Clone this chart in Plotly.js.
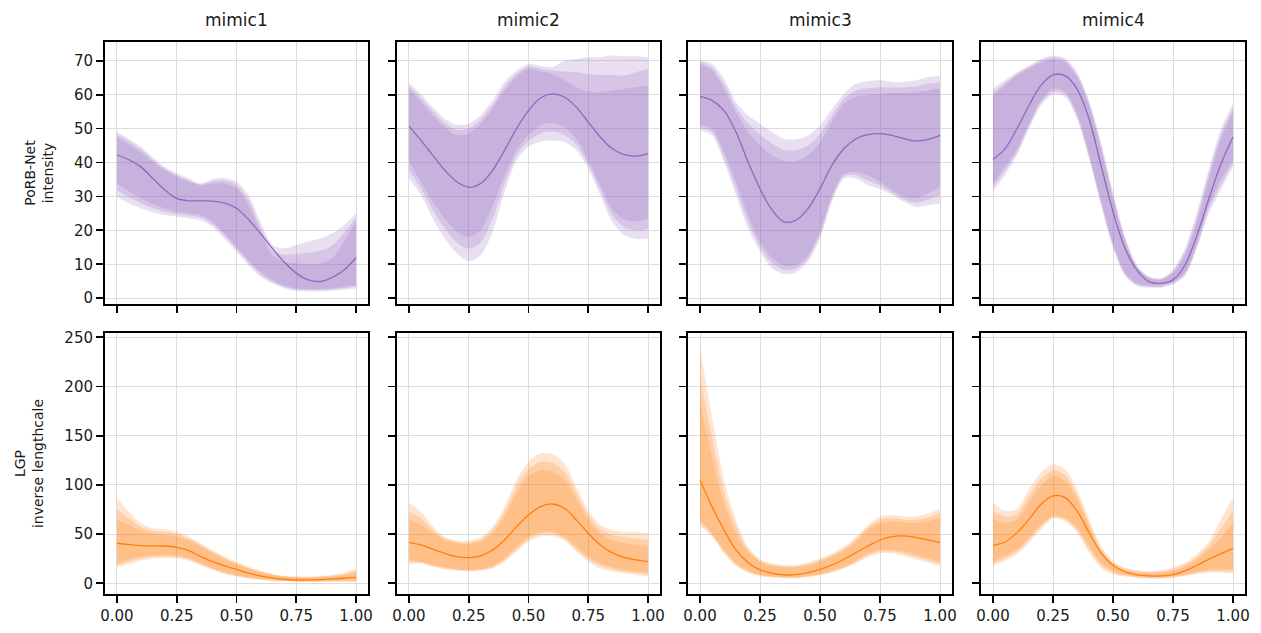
<!DOCTYPE html>
<html>
<head>
<meta charset="utf-8">
<script src="https://cdn.plot.ly/plotly-3.0.1.min.js"></script>
<style>html,body{margin:0;padding:0;background:#fff;}#chart{width:1261px;height:633px;}</style>
</head>
<body>
<div id="chart"></div>
<script>
// ---------------- DATA ----------------
const xGrid = [0, 0.05, 0.1, 0.15, 0.2, 0.25, 0.3, 0.35, 0.4, 0.45, 0.5, 0.55, 0.6, 0.65, 0.7, 0.75, 0.8, 0.85, 0.9, 0.95, 1];
const panelTitles = ['mimic1', 'mimic2', 'mimic3', 'mimic4'];
const rowTitles = ['PoRB-Net<br>intensity', 'LGP<br>inverse lengthcale'];
const xTickVals = [0, 0.25, 0.5, 0.75, 1];
const xTickText = ['0.00', '0.25', '0.50', '0.75', '1.00'];
const yTopTicks = [0, 10, 20, 30, 40, 50, 60, 70];
const yBottomTicks = [0, 50, 100, 150, 200, 250];

// PoRB-Net intensity (top row): mean and three nested bands (1 = inner, 3 = outer)
const int1_mean = [42.2, 40.8, 38.7, 35.3, 31.9, 29.4, 28.7, 28.7, 28.6, 28.0, 26.5, 23.2, 19.1, 14.7, 10.6, 7.4, 5.4, 4.9, 6.1, 8.3, 12.0];
const int1_hi3 = [49, 47, 44.6, 41.5, 38.7, 36.8, 35.3, 33.8, 35.1, 35.5, 34.3, 30.4, 22.5, 15.7, 14.7, 15.7, 16.7, 17.6, 19.1, 21.6, 25];
const int1_hi2 = [48.3, 46.2, 43.9, 40.9, 38.2, 36.3, 34.8, 33.6, 34.5, 34.7, 33.4, 29, 21, 14.2, 12.8, 13, 13.4, 14, 15.5, 19.2, 23.8];
const int1_hi1 = [47.5, 45.3, 43.1, 40.2, 37.7, 35.8, 34.3, 33.3, 33.8, 33.8, 32.4, 27.5, 19.6, 12.7, 10.8, 10.3, 10, 10.3, 11.8, 16.7, 22.5];
const int1_lo1 = [33.8, 31.5, 29.4, 27.8, 26.5, 25.5, 25, 24.5, 22.5, 19.1, 15.2, 11.3, 7.8, 5.4, 3.7, 2.9, 2.7, 2.7, 2.9, 3.4, 3.9];
const int1_lo2 = [31.8, 29.8, 28, 26.6, 25.5, 24.8, 24.3, 23.8, 21.8, 18.4, 14.5, 10.6, 7.1, 4.9, 3.3, 2.6, 2.4, 2.4, 2.6, 3, 3.4];
const int1_lo3 = [29.9, 28, 26.5, 25.3, 24.5, 24, 23.5, 23, 21, 17.6, 13.7, 9.8, 6.4, 4.4, 2.9, 2.2, 2, 2, 2.2, 2.5, 2.9];

const int2_mean = [50.7, 46.5, 42.1, 37.7, 34.3, 32.7, 33.8, 37.7, 43.6, 50.0, 55.3, 59.0, 60.2, 59.3, 56.3, 51.9, 47.5, 44.1, 42.3, 41.9, 42.6];
const int2_hi3 = [63.4, 60.2, 56.3, 52.9, 51.1, 51.4, 53.9, 58.3, 63.7, 67.1, 69.0, 68.5, 68.1, 70.0, 70.5, 71.0, 71.0, 71.5, 71.3, 71.3, 71.0];
const int2_hi2 = [62.5, 59.0, 55.1, 51.6, 49.5, 50.0, 52.6, 57.0, 62.4, 66.1, 68.3, 67.6, 67.1, 66.8, 66.6, 66.1, 65.8, 65.8, 65.6, 66.6, 67.6];
const int2_hi1 = [61.7, 57.8, 53.9, 50.4, 48.0, 48.5, 51.4, 55.8, 61.2, 65.1, 67.6, 66.8, 66.1, 64.2, 62.2, 60.9, 60.7, 61.2, 61.7, 62.2, 62.7];
const int2_lo1 = [40.2, 34.3, 28.4, 23.5, 19.6, 18.1, 20.1, 27.4, 36.2, 43.6, 48.0, 50.9, 51.7, 50.4, 47.0, 40.6, 33.3, 26.4, 23.3, 22.7, 23.5];
const int2_lo2 = [37.8, 32.4, 26.0, 20.6, 16.4, 14.6, 16.4, 23.5, 33.8, 42.1, 46.3, 48.5, 49.1, 48.2, 45.3, 39.4, 31.9, 24.5, 21.0, 20.0, 20.5];
const int2_lo3 = [35.3, 30.4, 23.5, 17.6, 13.2, 11.0, 12.7, 19.6, 31.3, 40.6, 44.6, 46.2, 46.5, 46.0, 43.6, 38.2, 30.4, 22.5, 18.6, 17.4, 17.6];

const int3_mean = [59.5, 58.3, 55.3, 49.0, 40.2, 32.3, 26.0, 22.5, 23.0, 26.4, 32.3, 39.2, 44.1, 47.0, 48.2, 48.5, 48.0, 47.0, 46.3, 46.8, 48.0];
const int3_hi3 = [70.3, 69.0, 64.6, 57.8, 53.9, 51.4, 49.0, 47.0, 46.8, 48.0, 50.9, 55.8, 60.2, 63.2, 63.9, 64.2, 63.7, 63.7, 64.2, 65.2, 65.5];
const int3_hi2 = [69.6, 68.0, 63.2, 56.3, 51.5, 48.2, 45.5, 43.7, 43.6, 45.0, 48.4, 53.8, 58.7, 61.2, 61.9, 62.2, 62.1, 62.1, 62.4, 63.2, 63.6];
const int3_hi1 = [69.0, 67.1, 61.7, 54.8, 49.0, 45.0, 42.1, 40.4, 40.4, 42.1, 46.0, 51.9, 57.3, 59.3, 59.9, 60.2, 60.5, 60.5, 60.7, 61.2, 61.7];
const int3_lo1 = [51.1, 50.0, 43.1, 34.3, 24.5, 16.7, 11.8, 9.6, 9.8, 12.7, 19.6, 30.4, 36.7, 37.2, 36.2, 34.3, 31.8, 29.9, 29.4, 30.9, 32.8];
const int3_lo2 = [50.3, 49.0, 41.6, 32.3, 22.5, 15.2, 10.3, 8.3, 8.7, 11.7, 18.6, 29.4, 36.0, 36.2, 34.7, 33.2, 31.1, 29.1, 28.1, 29.1, 30.3];
const int3_lo3 = [49.5, 48.0, 40.2, 30.4, 20.6, 13.7, 8.8, 7.1, 7.6, 10.8, 17.6, 28.4, 35.3, 35.3, 33.3, 32.1, 30.4, 28.4, 26.9, 27.4, 27.9];

const int4_mean = [40.9, 44.0, 50.0, 56.8, 62.7, 65.8, 65.6, 61.7, 52.9, 39.2, 25.5, 14.7, 8.3, 4.9, 4.4, 5.4, 9.8, 18.6, 29.4, 39.6, 47.5];
const int4_hi3 = [61.7, 64.2, 66.6, 68.6, 70.5, 71.5, 70.7, 66.6, 58.3, 46.0, 31.3, 18.1, 9.8, 6.4, 5.9, 8.4, 14.7, 25.5, 38.2, 50.0, 57.3];
const int4_hi2 = [60.7, 63.4, 66.1, 68.1, 70.0, 70.9, 70.1, 65.9, 57.6, 45.0, 30.3, 17.6, 9.3, 6.2, 5.7, 7.9, 13.7, 24.0, 36.8, 48.5, 56.0];
const int4_hi1 = [59.7, 62.6, 65.6, 67.6, 69.5, 70.3, 69.5, 65.1, 56.8, 44.0, 29.3, 17.1, 8.8, 5.9, 5.4, 7.4, 12.7, 22.5, 35.3, 47.0, 54.8];
const int4_lo1 = [33.8, 38.8, 44.0, 51.4, 58.3, 61.7, 60.9, 54.4, 42.6, 28.9, 16.2, 7.6, 4.4, 3.8, 3.8, 4.8, 7.6, 16.2, 27.4, 35.0, 40.8];
const int4_lo2 = [32.6, 37.5, 43.0, 50.7, 57.5, 60.8, 60.1, 53.6, 41.8, 28.1, 15.4, 7.1, 4.0, 3.4, 3.4, 4.4, 7.1, 15.4, 26.3, 33.5, 39.8];
const int4_lo3 = [31.4, 36.3, 42.1, 50.0, 56.8, 60.0, 59.3, 52.9, 41.1, 27.4, 14.7, 6.6, 3.6, 3.1, 3.1, 4.1, 6.6, 14.7, 25.2, 32.0, 38.8];

// LGP inverse lengthscale (bottom row)
const len1_mean = [40.7, 39.3, 38.3, 38.0, 37.9, 36.6, 33.2, 27.1, 22.0, 17.6, 14.2, 10.2, 7.5, 5.4, 4.1, 3.4, 3.4, 3.7, 4.4, 5.1, 6.1];
const len1_hi3 = [86.4, 72.8, 61.0, 55.9, 54.9, 52.5, 47.4, 40.7, 33.9, 27.1, 22.0, 16.9, 12.9, 9.5, 7.5, 6.8, 6.8, 7.5, 8.5, 10.8, 15.2];
const len1_hi2 = [75.0, 66.0, 57.2, 53.3, 52.0, 50.0, 45.4, 39.0, 32.2, 25.8, 20.6, 15.9, 12.0, 9.0, 7.1, 6.4, 6.3, 6.8, 7.6, 9.4, 13.0];
const len1_hi1 = [64.4, 59.3, 53.5, 50.8, 49.1, 47.4, 43.4, 37.3, 30.5, 24.4, 19.3, 14.9, 11.2, 8.5, 6.8, 6.1, 5.8, 6.1, 6.8, 8.1, 10.8];
const len1_lo1 = [20.3, 24.4, 27.1, 28.5, 28.8, 28.1, 25.4, 20.3, 15.2, 11.2, 8.5, 6.1, 4.4, 3.4, 2.7, 2.4, 2.4, 2.4, 2.4, 2.7, 2.7];
const len1_lo2 = [18.3, 22.0, 25.0, 26.8, 27.2, 26.7, 24.2, 19.3, 14.4, 10.3, 7.6, 5.4, 3.9, 2.9, 2.2, 1.9, 1.9, 1.9, 1.9, 2.0, 2.0];
const len1_lo3 = [16.3, 19.6, 23.0, 25.1, 25.7, 25.4, 23.0, 18.3, 13.6, 9.5, 6.8, 4.7, 3.4, 2.4, 1.7, 1.4, 1.4, 1.4, 1.4, 1.4, 1.4];

const len2_mean = [41.3, 39.0, 34.6, 30.5, 27.1, 26.1, 27.8, 33.9, 44.0, 57.6, 69.4, 77.9, 80.6, 76.2, 64.4, 50.8, 39.0, 31.2, 26.4, 23.7, 22.0];
const len2_hi3 = [82.0, 72.8, 57.6, 47.4, 43.4, 43.4, 46.7, 57.6, 77.9, 105.0, 123.6, 132.0, 131.4, 122.0, 98.2, 74.5, 59.3, 54.2, 52.5, 52.2, 50.8];
const len2_hi2 = [73.0, 66.0, 54.2, 45.7, 42.0, 41.7, 44.5, 54.2, 72.8, 98.2, 116.0, 123.6, 122.4, 113.5, 92.3, 69.4, 55.0, 49.1, 46.9, 45.6, 44.0];
const len2_hi1 = [64.4, 59.3, 50.8, 44.0, 40.7, 40.0, 42.3, 50.8, 67.8, 91.5, 108.4, 115.2, 113.5, 105.0, 86.4, 64.4, 50.8, 44.0, 41.3, 39.0, 37.3];
const len2_lo1 = [23.7, 22.0, 18.6, 16.3, 14.2, 13.6, 14.2, 17.6, 25.4, 37.3, 47.4, 52.5, 52.5, 47.4, 37.3, 27.1, 20.3, 16.3, 13.6, 11.9, 10.8];
const len2_lo2 = [21.0, 21.2, 17.7, 15.2, 13.5, 12.7, 13.5, 16.4, 23.7, 34.7, 44.8, 50.0, 50.3, 45.4, 34.7, 24.5, 17.7, 14.1, 11.9, 10.2, 9.1];
const len2_lo3 = [19.5, 20.3, 16.9, 14.2, 12.9, 11.9, 12.9, 15.2, 22.0, 32.2, 42.3, 47.4, 48.1, 43.4, 32.2, 22.0, 15.2, 11.9, 10.2, 8.5, 7.5];

const len3_mean = [105.0, 77.9, 54.2, 33.9, 21.0, 13.6, 10.2, 8.5, 8.8, 10.8, 14.2, 18.6, 24.4, 31.2, 37.9, 44.0, 47.4, 48.1, 46.7, 44.0, 41.3];
const len3_hi3 = [238.8, 169.4, 105.0, 64.4, 37.3, 24.4, 20.3, 18.6, 18.6, 21.0, 25.4, 30.5, 37.3, 47.4, 59.3, 67.8, 69.4, 67.8, 67.8, 71.1, 75.2];
const len3_hi2 = [210.0, 149.0, 93.0, 57.6, 34.7, 23.2, 19.0, 17.5, 17.5, 19.5, 23.7, 28.8, 35.2, 44.8, 56.7, 64.4, 66.0, 64.7, 64.4, 66.9, 70.6];
const len3_hi1 = [183.0, 128.7, 81.3, 50.8, 32.2, 22.0, 17.6, 16.3, 16.3, 18.0, 22.0, 27.1, 33.2, 42.3, 54.2, 61.0, 62.7, 61.7, 61.0, 62.7, 66.0];
const len3_lo1 = [64.4, 50.8, 33.9, 20.3, 12.9, 8.8, 6.8, 6.1, 6.1, 7.5, 9.5, 12.9, 16.9, 23.0, 30.5, 33.9, 33.9, 32.2, 28.8, 25.4, 22.0];
const len3_lo2 = [61.3, 49.1, 32.2, 19.0, 11.8, 8.1, 6.3, 5.6, 5.6, 6.8, 8.8, 11.8, 15.9, 21.6, 28.4, 32.2, 32.2, 30.0, 26.6, 23.2, 19.8];
const len3_lo3 = [58.3, 47.4, 30.5, 17.6, 10.8, 7.5, 5.8, 5.1, 5.1, 6.1, 8.1, 10.8, 14.9, 20.3, 26.4, 30.5, 30.5, 27.8, 24.4, 21.0, 17.6];

const len4_mean = [38.6, 42.0, 51.5, 65.0, 80.3, 88.8, 87.1, 73.5, 51.5, 31.2, 18.3, 11.5, 8.5, 7.5, 7.5, 8.8, 12.5, 18.3, 24.4, 30.1, 35.2];
const len4_hi3 = [82.0, 73.5, 75.2, 95.5, 112.5, 121.0, 115.9, 95.5, 65.0, 37.9, 22.7, 15.9, 13.5, 12.5, 13.5, 15.9, 21.0, 29.5, 43.0, 65.0, 87.1];
const len4_hi2 = [73.5, 67.5, 70.0, 88.7, 105.7, 115.0, 110.0, 90.4, 61.6, 35.4, 21.0, 14.7, 12.1, 11.3, 12.1, 14.2, 19.0, 27.0, 38.7, 55.7, 74.3];
const len4_hi1 = [65.0, 61.6, 65.0, 82.0, 98.9, 109.0, 104.0, 85.4, 58.3, 32.9, 19.3, 13.5, 10.8, 10.1, 10.8, 12.5, 16.9, 24.4, 34.5, 46.4, 61.6];
const len4_lo1 = [22.7, 27.7, 34.5, 46.4, 59.9, 68.4, 66.7, 56.6, 37.9, 21.0, 12.5, 8.8, 6.8, 6.1, 6.1, 6.8, 9.1, 11.5, 13.5, 14.2, 14.2];
const len4_lo2 = [20.2, 25.2, 32.0, 43.8, 57.4, 67.0, 65.0, 54.0, 34.5, 18.4, 10.8, 7.8, 6.1, 5.4, 5.4, 6.2, 8.2, 10.5, 12.1, 12.5, 12.1];
const len4_lo3 = [17.6, 22.7, 29.5, 41.3, 54.9, 65.7, 63.3, 51.5, 31.2, 15.9, 9.1, 6.8, 5.4, 4.7, 4.7, 5.7, 7.4, 9.5, 10.8, 10.8, 10.1];

// ---------------- BUILD ----------------
const PURPLE = '#9467bd', ORANGE = '#ff7f0e';
const panels = [
  {mean: int1_mean, bands: [[int1_lo3, int1_hi3], [int1_lo2, int1_hi2], [int1_lo1, int1_hi1]], color: PURPLE, fill: 'rgba(148,103,189,0.21)'},
  {mean: int2_mean, bands: [[int2_lo3, int2_hi3], [int2_lo2, int2_hi2], [int2_lo1, int2_hi1]], color: PURPLE, fill: 'rgba(148,103,189,0.21)'},
  {mean: int3_mean, bands: [[int3_lo3, int3_hi3], [int3_lo2, int3_hi2], [int3_lo1, int3_hi1]], color: PURPLE, fill: 'rgba(148,103,189,0.21)'},
  {mean: int4_mean, bands: [[int4_lo3, int4_hi3], [int4_lo2, int4_hi2], [int4_lo1, int4_hi1]], color: PURPLE, fill: 'rgba(148,103,189,0.21)'},
  {mean: len1_mean, bands: [[len1_lo3, len1_hi3], [len1_lo2, len1_hi2], [len1_lo1, len1_hi1]], color: ORANGE, fill: 'rgba(255,127,14,0.2)'},
  {mean: len2_mean, bands: [[len2_lo3, len2_hi3], [len2_lo2, len2_hi2], [len2_lo1, len2_hi1]], color: ORANGE, fill: 'rgba(255,127,14,0.2)'},
  {mean: len3_mean, bands: [[len3_lo3, len3_hi3], [len3_lo2, len3_hi2], [len3_lo1, len3_hi1]], color: ORANGE, fill: 'rgba(255,127,14,0.2)'},
  {mean: len4_mean, bands: [[len4_lo3, len4_hi3], [len4_lo2, len4_hi2], [len4_lo1, len4_hi1]], color: ORANGE, fill: 'rgba(255,127,14,0.2)'}
];

const W = 1261, H = 633;
const colPx = [[105, 368], [397, 660], [688, 952], [981, 1245]];
const rowPx = [[42, 304], [333, 594]];
const FONT = 'DejaVu Sans, sans-serif';

const traces = [];
const layout = {
  width: W, height: H,
  margin: {l: 0, r: 0, t: 0, b: 0},
  paper_bgcolor: '#fff', plot_bgcolor: '#fff',
  showlegend: false,
  font: {family: FONT, color: '#000', size: 15},
  annotations: []
};

panels.forEach((p, i) => {
  const k = i + 1;
  const row = Math.floor(i / 4), col = i % 4;
  const xa = 'x' + (k === 1 ? '' : k), ya = 'y' + (k === 1 ? '' : k);
  p.bands.forEach(([lo, hi]) => {
    traces.push({x: xGrid, y: lo, xaxis: xa, yaxis: ya, mode: 'lines',
      line: {width: 0, shape: 'spline', smoothing: 0.8, color: 'rgba(0,0,0,0)'}, hoverinfo: 'skip'});
    traces.push({x: xGrid, y: hi, xaxis: xa, yaxis: ya, mode: 'lines', fill: 'tonexty',
      fillcolor: p.fill, line: {width: 0, shape: 'spline', smoothing: 0.8, color: 'rgba(0,0,0,0)'}, hoverinfo: 'skip'});
  });
  traces.push({x: xGrid, y: p.mean, xaxis: xa, yaxis: ya, mode: 'lines',
    line: {width: 1.3, shape: 'spline', smoothing: 1, color: p.color}});

  const cx = colPx[col], ry = rowPx[row];
  const common = {
    showline: true, mirror: true, linecolor: '#000', linewidth: 2,
    ticks: 'outside', ticklen: 7, tickwidth: 1.8, tickcolor: '#000',
    showgrid: true, gridcolor: '#dcdcdc', gridwidth: 1, zeroline: false,
    tickfont: {family: FONT, size: 15, color: '#1a1a1a'}
  };
  layout['xaxis' + (k === 1 ? '' : k)] = Object.assign({}, common, {
    domain: [cx[0] / W, cx[1] / W], anchor: ya,
    range: [-0.05, 1.05], tickmode: 'array', tickvals: xTickVals, ticktext: xTickText,
    showticklabels: row === 1
  });
  const yt = row === 0 ? yTopTicks : yBottomTicks;
  const yax = Object.assign({}, common, {
    domain: [1 - ry[1] / H, 1 - ry[0] / H], anchor: xa,
    range: row === 0 ? [-1.7, 75.5] : [-10.9, 254.4],
    tickmode: 'array', tickvals: yt, ticktext: yt.map(String),
    showticklabels: col === 0
  });
  if (col === 0) {
    yax.title = {text: rowTitles[row], font: {family: FONT, size: 14, color: '#1a1a1a'}, standoff: 17};
  }
  layout['yaxis' + (k === 1 ? '' : k)] = yax;

  if (row === 0) {
    layout.annotations.push({
      text: panelTitles[col], xref: 'paper', yref: 'paper',
      x: (cx[0] + cx[1]) / 2 / W, y: 1 - 20 / H, xanchor: 'center', yanchor: 'middle',
      showarrow: false, font: {family: FONT, size: 17, color: '#1a1a1a'}
    });
  }
});

Plotly.newPlot('chart', traces, layout, {displayModeBar: false, staticPlot: true});
</script>
</body>
</html>
